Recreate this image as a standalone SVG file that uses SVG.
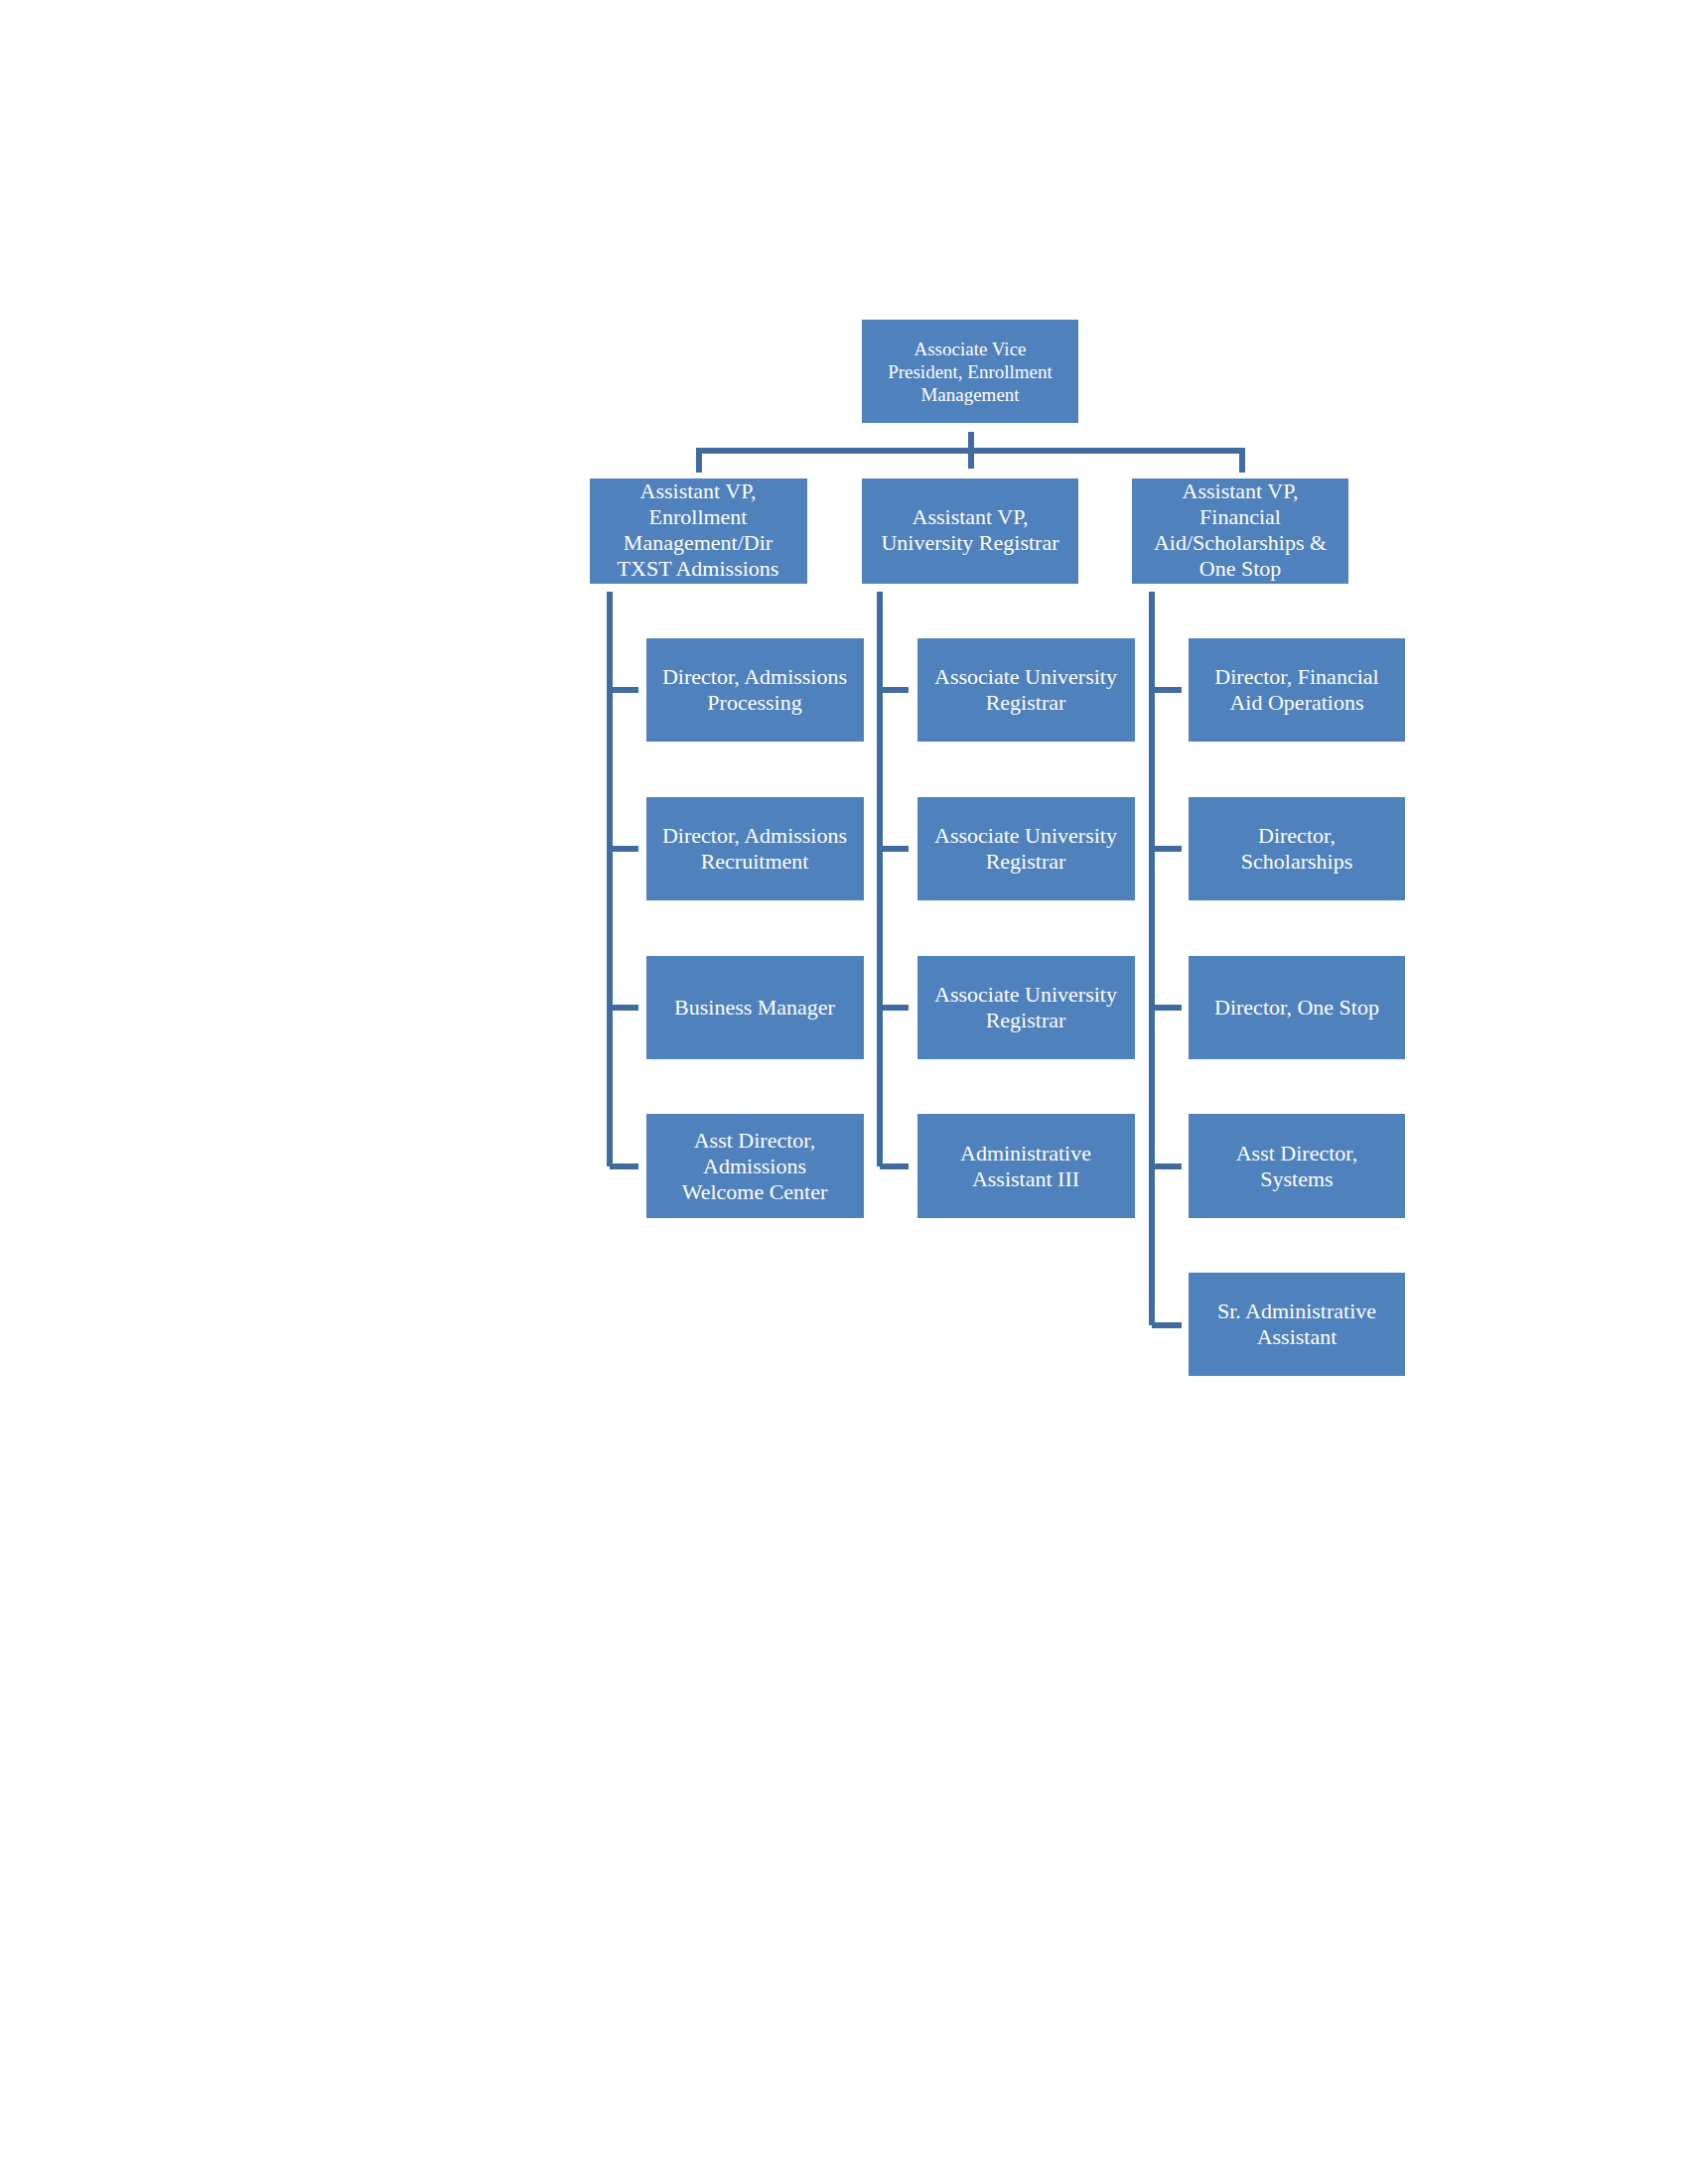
<svg xmlns="http://www.w3.org/2000/svg" width="1700" height="2200" viewBox="0 0 1700 2200">
<style>
.b{fill:#4F81BD}
text{font-family:"Liberation Serif",serif;fill:#fff;font-size:22px;text-anchor:middle}
.s{font-size:19px}
.c{stroke:#3F6B9E;stroke-width:6;fill:none}
</style>
<rect width="1700" height="2200" fill="#fff"/>
<g id="connectors">
<path class="c" d="M978 435V472M704 476V454H1251V476"/>
<path class="c" d="M614 596V1175M614 695H643M614 855H643M614 1015H643M614 1175H643"/>
<path class="c" d="M886 596V1175M886 695H915M886 855H915M886 1015H915M886 1175H915"/>
<path class="c" d="M1160 596V1335M1160 695H1190M1160 855H1190M1160 1015H1190M1160 1175H1190M1160 1335H1190"/>
</g>
<g id="avp"><rect class="b" x="868" y="322" width="218" height="104"/><text class="s" x="977" y="358">Associate Vice</text><text class="s" x="977" y="381">President, Enrollment</text><text class="s" x="977" y="404">Management</text></g>
<g id="n1"><rect class="b" x="594" y="482" width="219" height="106"/><text x="703" y="502">Assistant VP,</text><text x="703" y="528">Enrollment</text><text x="703" y="554">Management/Dir</text><text x="703" y="580">TXST Admissions</text></g>
<g id="n2"><rect class="b" x="868" y="482" width="218" height="106"/><text x="977" y="528">Assistant VP,</text><text x="977" y="554">University Registrar</text></g>
<g id="n3"><rect class="b" x="1140" y="482" width="218" height="106"/><text x="1249" y="502">Assistant VP,</text><text x="1249" y="528">Financial</text><text x="1249" y="554">Aid/Scholarships &amp;</text><text x="1249" y="580">One Stop</text></g>
<g id="a1"><rect class="b" x="651" y="643" width="219" height="104"/><text x="760" y="689">Director, Admissions</text><text x="760" y="715">Processing</text></g>
<g id="a2"><rect class="b" x="651" y="803" width="219" height="104"/><text x="760" y="849">Director, Admissions</text><text x="760" y="875">Recruitment</text></g>
<g id="a3"><rect class="b" x="651" y="963" width="219" height="104"/><text x="760" y="1022">Business Manager</text></g>
<g id="a4"><rect class="b" x="651" y="1122" width="219" height="105"/><text x="760" y="1156">Asst Director,</text><text x="760" y="1182">Admissions</text><text x="760" y="1208">Welcome Center</text></g>
<g id="r1"><rect class="b" x="924" y="643" width="219" height="104"/><text x="1033" y="689">Associate University</text><text x="1033" y="715">Registrar</text></g>
<g id="r2"><rect class="b" x="924" y="803" width="219" height="104"/><text x="1033" y="849">Associate University</text><text x="1033" y="875">Registrar</text></g>
<g id="r3"><rect class="b" x="924" y="963" width="219" height="104"/><text x="1033" y="1009">Associate University</text><text x="1033" y="1035">Registrar</text></g>
<g id="r4"><rect class="b" x="924" y="1122" width="219" height="105"/><text x="1033" y="1169">Administrative</text><text x="1033" y="1195">Assistant III</text></g>
<g id="f1"><rect class="b" x="1197" y="643" width="218" height="104"/><text x="1306" y="689">Director, Financial</text><text x="1306" y="715">Aid Operations</text></g>
<g id="f2"><rect class="b" x="1197" y="803" width="218" height="104"/><text x="1306" y="849">Director,</text><text x="1306" y="875">Scholarships</text></g>
<g id="f3"><rect class="b" x="1197" y="963" width="218" height="104"/><text x="1306" y="1022">Director, One Stop</text></g>
<g id="f4"><rect class="b" x="1197" y="1122" width="218" height="105"/><text x="1306" y="1169">Asst Director,</text><text x="1306" y="1195">Systems</text></g>
<g id="f5"><rect class="b" x="1197" y="1282" width="218" height="104"/><text x="1306" y="1328">Sr. Administrative</text><text x="1306" y="1354">Assistant</text></g>
</svg>
